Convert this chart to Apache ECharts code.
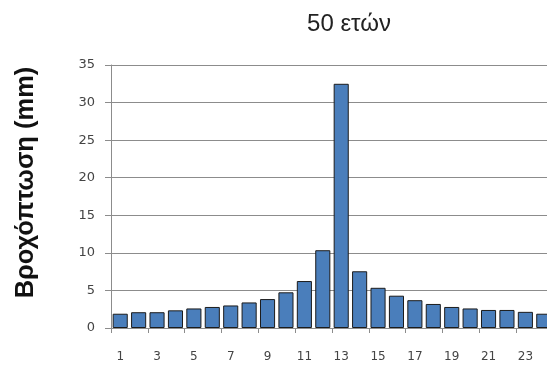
<!DOCTYPE html>
<html>
<head>
<meta charset="utf-8">
<script src="https://cdn.jsdelivr.net/npm/echarts@6/dist/echarts.min.js"></script>
<style>
  html, body { margin: 0; padding: 0; background: #fff; overflow: hidden; }
</style>
</head>
<body>
<!-- ο καμβάς είναι λίγο πλατύτερος από το παράθυρο: η τελευταία μπάρα κόβεται όπως στο πρωτότυπο -->
<div id="main" style="width: 556px;height: 366px;"></div>
<script>
  // ώρες 1..24
  let hours = ['1', '2', '3', '4', '5', '6', '7', '8', '9', '10', '11', '12',
    '13', '14', '15', '16', '17', '18', '19', '20', '21', '22', '23', '24']
  // βροχόπτωση (mm), περίοδος επαναφοράς 50 ετών
  let rain = [1.9, 2.1, 2.1, 2.35, 2.6, 2.8, 3.0, 3.4, 3.85, 4.75, 6.25, 10.35,
    32.5, 7.55, 5.35, 4.3, 3.7, 3.2, 2.8, 2.6, 2.4, 2.4, 2.15, 1.9]
  let yTicks = [0, 5, 10, 15, 20, 25, 30, 35]

  let chart = echarts.init(document.getElementById('main'))
  chart.setOption({
    animation: false,
    title: {
      text: '50 ετών',
      left: 344,
      top: 7,
      textAlign: 'center',
      textStyle: {
        fontFamily: 'Liberation Sans',
        fontSize: 24,
        fontWeight: 'normal',
        color: '#222'
      }
    },
    grid: {
      left: 111,
      top: 65,
      right: 3,
      bottom: 38,
      containLabel: false
    },
    xAxis: {
      type: 'category',
      data: hours,
      axisLine: { lineStyle: { color: '#8c8c8c', width: 1 } },
      axisTick: { show: true, length: 5, lineStyle: { color: '#8c8c8c' } },
      axisLabel: {
        interval: 1,
        margin: 23,
        fontFamily: 'DejaVu Sans',
        fontSize: 12,
        color: '#444'
      }
    },
    yAxis: {
      type: 'value',
      min: yTicks[0],
      max: yTicks[yTicks.length - 1],
      interval: 5,
      name: 'Βροχόπτωση (mm)',
      nameLocation: 'middle',
      nameGap: 72,
      nameRotate: 90,
      nameTextStyle: {
        fontFamily: 'Liberation Sans',
        fontSize: 25.5,
        fontWeight: 'bold',
        color: '#111',
        padding: [0, 0, 0, 28]
      },
      axisLine: { show: true, lineStyle: { color: '#8c8c8c', width: 1 } },
      axisTick: { show: true, length: 6, lineStyle: { color: '#8c8c8c' } },
      axisLabel: {
        margin: 16,
        fontFamily: 'DejaVu Sans',
        fontSize: 13,
        color: '#444'
      },
      splitLine: { lineStyle: { color: '#8c8c8c', width: 1 } }
    },
    series: [
      {
        type: 'bar',
        data: rain,
        barCategoryGap: '18%',
        itemStyle: {
          color: '#4a7ebb',
          borderColor: '#1c1c1c',
          borderWidth: 1
        }
      }
    ]
  })
</script>
</body>
</html>
